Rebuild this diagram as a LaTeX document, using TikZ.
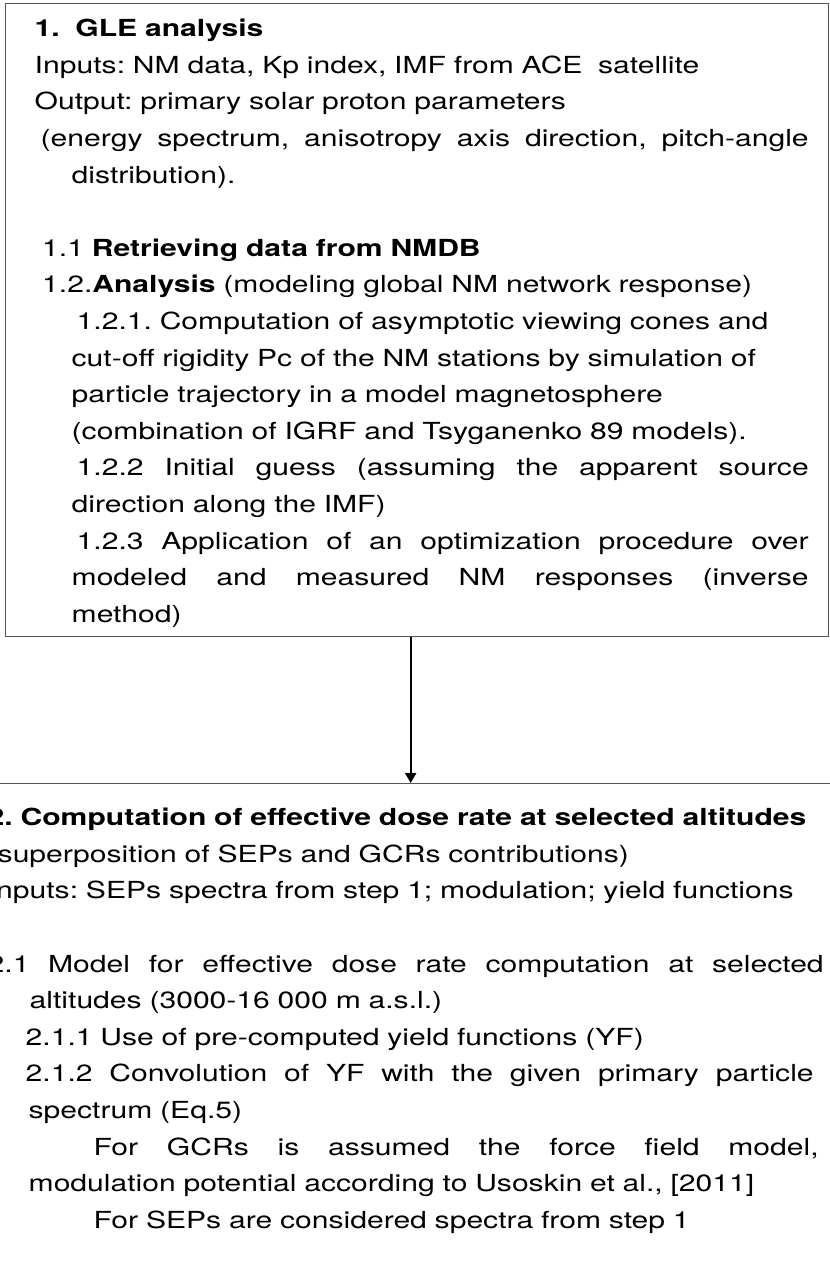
\documentclass[tikz,border=0pt]{standalone}
\usepackage{fontspec}
\setmainfont{TeX Gyre Heros}[FakeStretch=1.28]
\usepackage{tikz}
\usetikzlibrary{arrows.meta}
\definecolor{frame}{HTML}{555555}
% justified line: indent, width, text
\newcommand{\jline}[3]{\hspace*{#1}\makebox[#2][s]{\spaceskip=0pt\xspaceskip=0pt #3}}
\tikzset{
  box/.style={draw=frame, line width=0.7pt, align=left, inner ysep=0pt,
    font=\frenchspacing\fontsize{11.75}{18.3}\selectfont, anchor=north west},
  arr/.style={draw=black, line width=1pt, -{Triangle[width=5.5pt,length=5pt]}},
}

\begin{document}
\begin{tikzpicture}[x=0.5pt,y=-0.5pt]
  \useasboundingbox (0,0) rectangle (830,1264);
  \clip (0,0) rectangle (830,1264);
  \fill[white] (0,0) rectangle (830,1264);

  % step 1
  \node[box, inner xsep=14.5pt, text width=382.5pt, text height=16.5pt, text depth=300pt]
    (gle) at (5,3) {%
    \textbf{1.\ \ GLE analysis}\\
    Inputs: NM data, Kp index, IMF from ACE\ \ satellite\\
    Output: primary solar proton parameters\\
    \jline{3pt}{384pt}{(energy spectrum, anisotropy axis direction, pitch-angle}\\
    \hspace*{18.5pt}distribution).\\[18.3pt]
    \hspace*{3.75pt}1.1 \textbf{Retrieving data from NMDB}\\
    \hspace*{3.75pt}1.2.\textbf{Analysis} (modeling global NM network response)\\
    \hspace*{21pt}1.2.1. Computation of asymptotic viewing cones and\\
    \hspace*{18.5pt}cut-off rigidity Pc of the NM stations by simulation of\\
    \hspace*{18.5pt}particle trajectory in a model magnetosphere\\
    \hspace*{18.5pt}(combination of IGRF and Tsyganenko 89 models).\\
    \jline{21pt}{366pt}{1.2.2 Initial guess (assuming the apparent source}\\
    \hspace*{18.5pt}direction along the IMF)\\
    \jline{21pt}{366pt}{1.2.3 Application of an optimization procedure over}\\
    \jline{18.5pt}{368.5pt}{modeled and measured NM responses (inverse}\\
    \hspace*{18.5pt}method)};

  % step 2 (runs off the page)
  \node[box, inner xsep=10pt, text width=420pt, text height=21pt, text depth=300pt]
    (dose) at (-33,783) {%
    \textbf{2. Computation of effective dose rate at selected altitudes}\\
    (superposition of SEPs and GCRs contributions)\\
    Inputs: SEPs spectra from step 1; modulation; yield functions\\[18.3pt]
    \jline{0pt}{418pt}{2.1 Model for effective dose rate computation at selected}\\
    \hspace*{21pt}altitudes (3000-16 000 m a.s.l.)\\
    \hspace*{19pt}2.1.1 Use of pre-computed yield functions (YF)\\
    \jline{19pt}{394pt}{2.1.2 Convolution of YF with the given primary particle}\\
    \hspace*{20.5pt}spectrum (Eq.5)\\
    \jline{53pt}{362.5pt}{For GCRs is assumed the force field model,}\\
    \hspace*{20.5pt}modulation potential according to Usoskin et al., [2011]\\
    \hspace*{53pt}For SEPs are considered spectra from step 1};

  \draw[arr] ([xshift=-3.25pt]gle.south) -- ([xshift=-3.25pt]gle.south |- dose.north);
\end{tikzpicture}
\end{document}
